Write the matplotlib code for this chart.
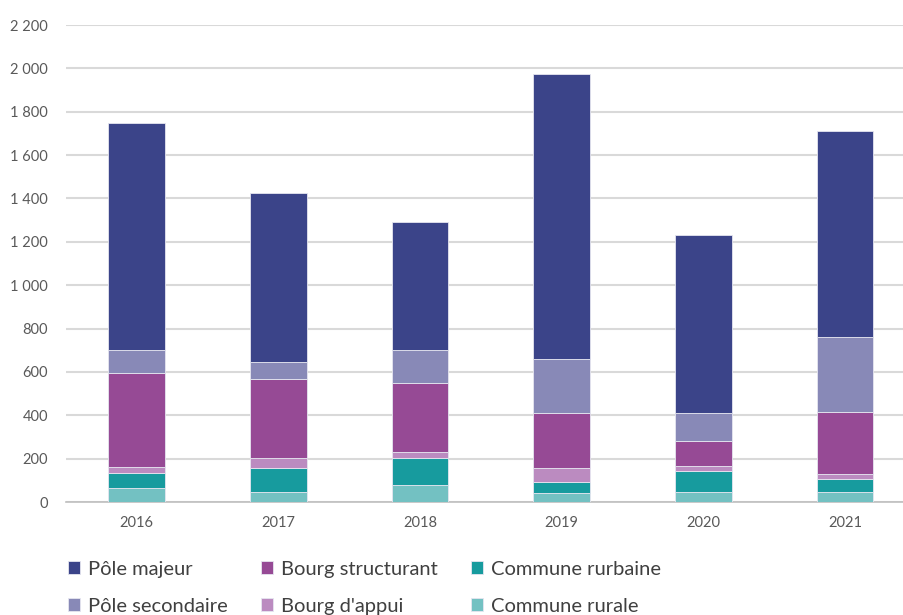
import numpy as np
import matplotlib.pyplot as plt
from matplotlib.ticker import FuncFormatter

plt.rcParams["font.family"] = ["Lato", "DejaVu Sans"]

years = ["2016", "2017", "2018", "2019", "2020", "2021"]

# Logements par type de commune, empilés du bas vers le haut
commune_rurale = [66, 45, 78, 40, 45, 45]
commune_rurbaine = [69, 110, 125, 52, 97, 63]
bourg_appui = [26, 48, 26, 63, 26, 20]
bourg_structurant = [433, 363, 321, 255, 112, 289]
pole_secondaire = [107, 80, 151, 250, 129, 346]
pole_majeur = [1047, 779, 590, 1314, 821, 950]

series = [
    ("Commune rurale", commune_rurale, "#73C1C2"),
    ("Commune rurbaine", commune_rurbaine, "#179B9E"),
    ("Bourg d'appui", bourg_appui, "#BB8BC0"),
    ("Bourg structurant", bourg_structurant, "#964A95"),
    ("Pôle secondaire", pole_secondaire, "#8889B7"),
    ("Pôle majeur", pole_majeur, "#3B4489"),
]

fig = plt.figure(figsize=(9.04, 6.15), dpi=100)
ax = fig.add_axes([0.073, 0.1837, 0.94, 0.7756])

x = np.arange(len(years))
bottom = np.zeros(len(years))
bars = {}
for name, vals, color in series:
    bars[name] = ax.bar(x, vals, 0.4, bottom=bottom, color=color,
                        edgecolor="#E6E6F0", linewidth=0.6, label=name, zorder=3)
    bottom += np.array(vals)

ax.set_ylim(0, 2200)
ax.set_xlim(-0.5, len(years) - 0.5)
ax.set_yticks(np.arange(0, 2201, 200))
ax.yaxis.set_major_formatter(FuncFormatter(lambda v, p: f"{int(v):,}".replace(",", " ")))
ax.set_xticks(x)
ax.set_xticklabels(years)

ax.grid(axis="y", color="#D9D9D9", linewidth=1.5, zorder=0)
for s in ["top", "right", "left"]:
    ax.spines[s].set_visible(False)
ax.spines["bottom"].set_color("#BFBFBF")
ax.spines["bottom"].set_linewidth(1.2)
ax.tick_params(axis="both", length=0, colors="#595959", labelsize=10.5)
ax.tick_params(axis="x", pad=10)
ax.tick_params(axis="y", pad=13)

# Légende : ordre colonne par colonne
order = ["Pôle majeur", "Pôle secondaire", "Bourg structurant",
         "Bourg d'appui", "Commune rurbaine", "Commune rurale"]
fig.legend([bars[n] for n in order], order, ncol=3, loc="lower left",
           bbox_to_anchor=(0.055, -0.029), frameon=False, fontsize=14.5,
           handlelength=0.6, handleheight=0.6, handletextpad=0.4,
           columnspacing=1.65, labelspacing=1.0, labelcolor="#404040")

fig.savefig("out.png", dpi=100)
